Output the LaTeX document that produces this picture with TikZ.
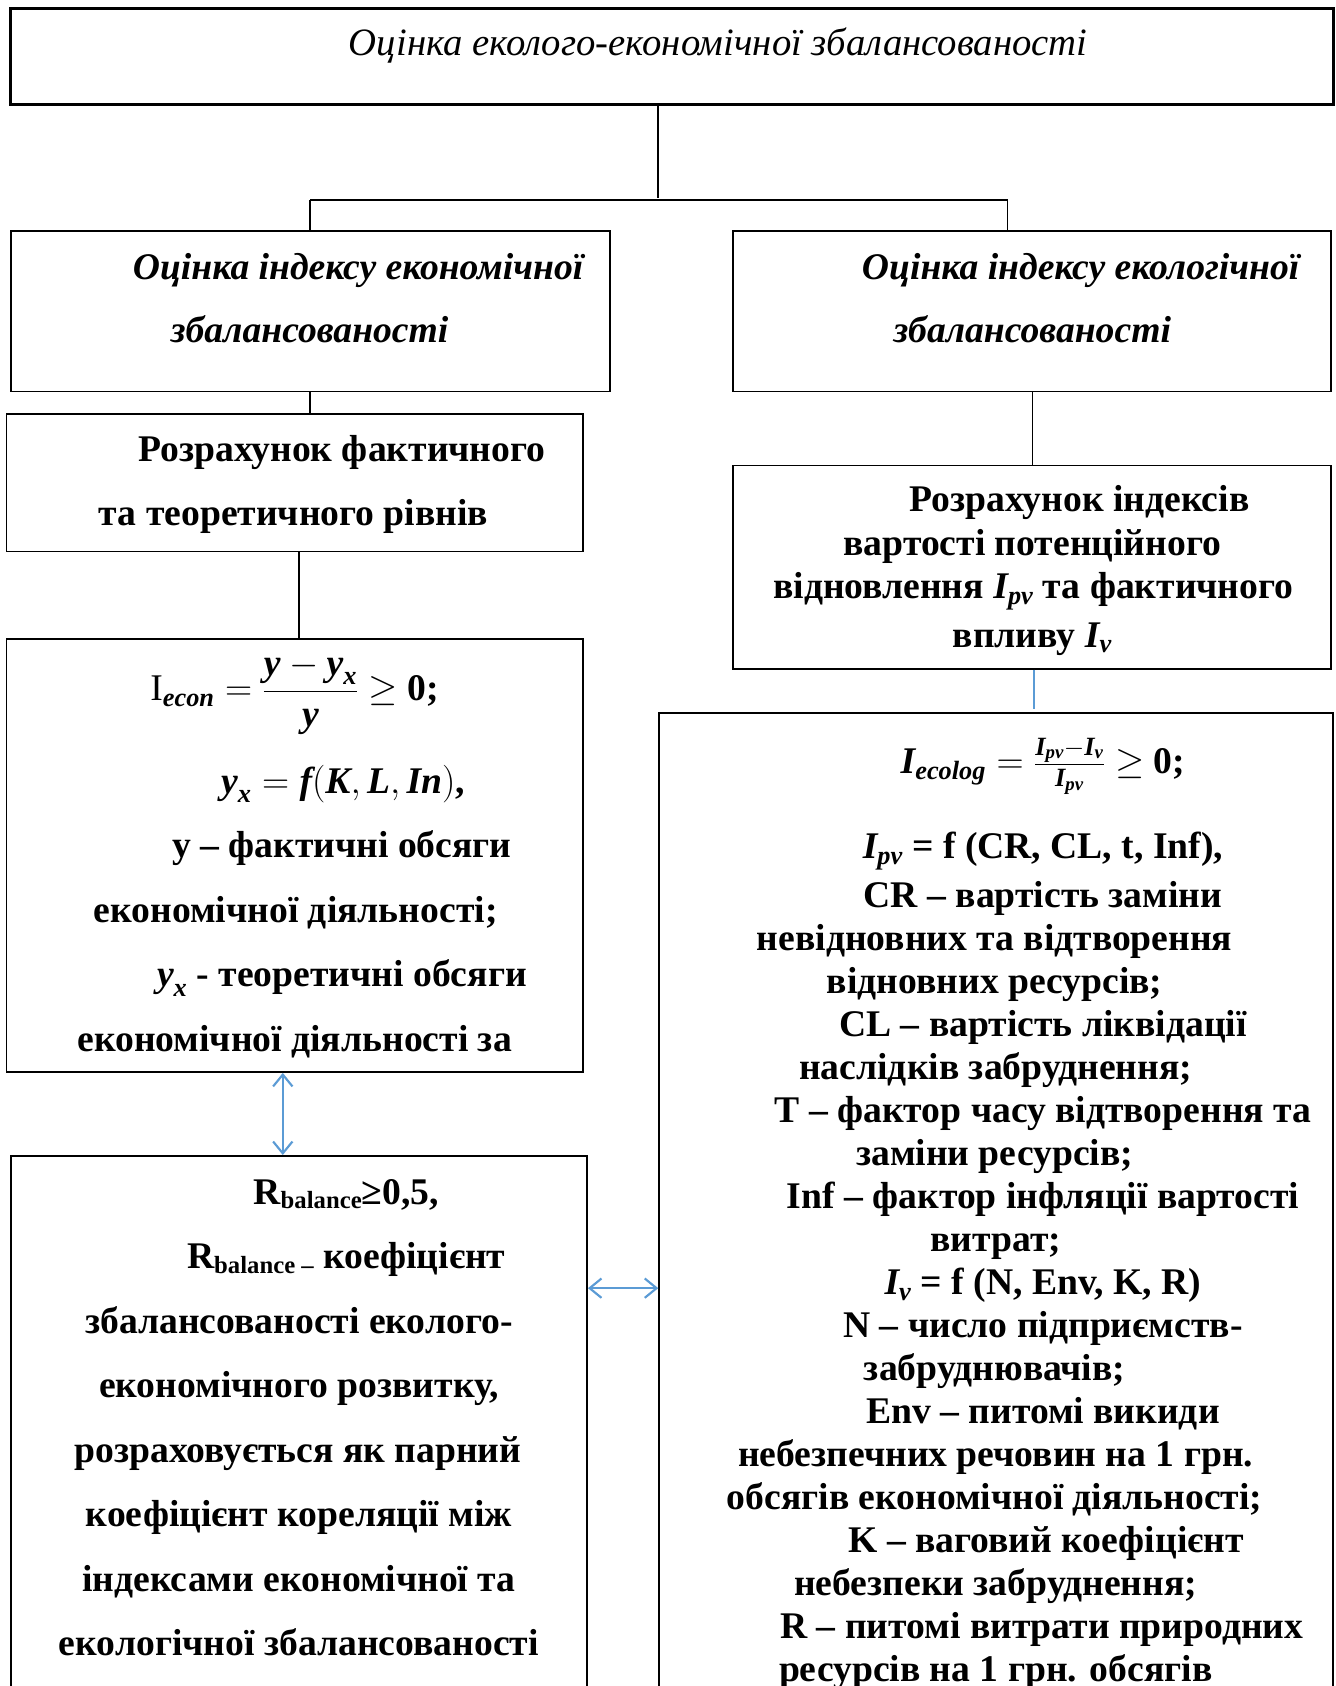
\RequirePackage{fix-cm}
\documentclass[tikz,border=0pt]{standalone}
\usepackage{amsmath}
\usepackage{fontspec}
\setmainfont{Liberation Serif}
\usetikzlibrary{arrows.meta}
\definecolor{lblue}{HTML}{5B9BD5}
\newcommand\bi[1]{\text{\bfseries\itshape #1}}
\newcommand\bodyfont{\fontsize{35}{40}\selectfont\bfseries}
\newcommand\headfont{\fontsize{35}{40}\selectfont\bfseries\itshape}
\newcommand\titlefont{\fontsize{36}{40}\selectfont\itshape}
\newcommand\subfont{\fontsize{23}{24}\selectfont}
\begin{document}
\begin{tikzpicture}[x=1pt,y=-1pt,
  box/.style={draw,line width=1.6pt,inner sep=0pt},
  ln/.style={anchor=mid,inner sep=0pt,font=\bodyfont,yshift=-9.5pt},
  hd/.style={anchor=mid,inner sep=0pt,font=\headfont,yshift=-9.5pt},
  conn/.style={line width=1.4pt},
  bar/.style={line width=2.2pt},
  bconn/.style={line width=2pt,draw=lblue},
  barrow/.style={bconn,{Straight Barb[length=11pt,width=18pt]}-{Straight Barb[length=11pt,width=18pt]}}]
\clip (0,0) rectangle (1242,1568);
% boxes
\node[box,line width=3pt,minimum width=1230pt,minimum height=89pt] (top) at (625,52.5) {};
\node[box,minimum width=557pt,minimum height=149pt] (econ) at (288.5,289.5) {};
\node[box,minimum width=556pt,minimum height=149pt] (ecol) at (960,289.5) {};
\node[box,minimum width=536pt,minimum height=128pt] (calcL) at (274,449) {};
\node[box,minimum width=556pt,minimum height=189pt] (calcR) at (960,527.5) {};
\node[box,minimum width=536pt,minimum height=403pt] (formL) at (274,795.5) {};
\node[box,minimum width=627pt,minimum height=977pt] (formR) at (926.5,1151.5) {};
\node[box,minimum width=536pt,minimum height=565pt] (balL) at (278,1357.5) {};
% connectors
\coordinate (j) at (612,184);
\coordinate (hr) at (937,186);
\draw[conn] (j |- top.south) -- (j);
\draw[bar] (econ.north |- hr) -- (hr);
\draw[conn] (econ.north |- hr) -- (econ.north);
\draw[conn] (hr) -- (hr |- ecol.north);
\draw[conn] (econ.south) -- (econ.south |- calcL.north);
\draw[conn] ([xshift=4pt]calcL.south) -- ([xshift=4pt]calcL.south |- formL.north);
\draw[conn] (ecol.south) -- (calcR.north);
\draw[bconn] ([xshift=2pt]calcR.south) -- ([xshift=2pt,yshift=3pt]calcR.south |- formR.north);
\draw[barrow] ([xshift=-11pt]formL.south) -- ([xshift=-11pt]formL.south |- balL.north);
\coordinate (h) at (0,1198);
\draw[barrow] (balL.east |- h) -- (formR.west |- h);
% texts
\node[anchor=mid,inner sep=0pt,font=\titlefont,yshift=-9.5pt] (title) at (668,40) {Оцінка еколого-економічної збалансованості};
\node[hd] (econ1) at (333,248) {Оцінка індексу економічної};
\node[hd] (econ2) at (288,307) {збалансованості};
\node[hd] (ecol1) at (1005,248) {Оцінка індексу екологічної};
\node[hd] (ecol2) at (960,307) {збалансованості};
\node[ln] (cl1) at (318,417) {Розрахунок фактичного};
\node[ln] (cl2) at (273,477) {та теоретичного рівнів};
\node[ln] (cr1) at (1004,464) {Розрахунок індексів};
\node[ln] (cr2) at (960,505) {вартості потенційного};
\node[ln] (cr3) at (961,545) {відновлення $\bi{I}_{\bi{pv}}$ та фактичного};
\node[ln] (cr4) at (960,590) {впливу $\bi{I}_{\bi{v}}$};
\node[ln] (fl0) at (274,640) {$\text{\mdseries I}_{\bi{econ}}=\dfrac{\bi{y}-\bi{y}_{\bi{x}}}{\bi{y}}\geq$ 0;};
\foreach \x/\y/\t [count=\i] in {
  319/726/{$\bi{y}_{\bi{x}}=\bi{f}(\bi{K},\bi{L},\bi{In})$,},
  318/786/{y – фактичні обсяги},
  275/846/{економічної діяльності;},
  318/906/{$\bi{y}_{\bi{x}}$ - теоретичні обсяги},
  274/966/{економічної діяльності за}}
  \node[ln] (fl\i) at (\x,\y) {\t};
\foreach \x/\y/\t [count=\i] in {
  322/1108/{R\raisebox{-0.12em}{\subfont balance}≥0,5,},
  322/1168/{R\raisebox{-0.12em}{\subfont balance –} коефіцієнт},
  278/1228/{збалансованості еколого-},
  278/1288/{економічного розвитку,},
  277/1348/{розраховується як парний},
  278/1408/{коефіцієнт кореляції між},
  278/1468/{індексами економічної та},
  278/1528/{екологічної збалансованості}}
  \node[ln] (bl\i) at (\x,\y) {\t};
\node[ln] (fr0) at (970,708) {$\bi{I}_{\bi{ecolog}}=\tfrac{\bi{I}_{\bi{pv}}-\bi{I}_{\bi{v}}}{\bi{I}_{\bi{pv}}}\geq$ 0;};
\foreach \x/\y/\t [count=\i] in {
  970/787/{$\bi{I}_{\bi{pv}}$ = f (CR, CL, t, Inf),},
  970/832/{CR – вартість заміни},
  925/872/{невідновних та відтворення},
  925/912/{відновних ресурсів;},
  970/952/{CL – вартість ліквідації},
  926/992/{наслідків забруднення;},
  970/1032/{T – фактор часу відтворення та},
  925/1072/{заміни ресурсів;},
  970/1112/{Inf – фактор інфляції вартості},
  926/1152/{витрат;},
  970/1192/{$\bi{I}_{\bi{v}}$ = f (N, Env, K, R)},
  970/1232/{N – число підприємств-},
  925/1272/{забруднювачів;},
  970/1312/{Env – питомі викиди},
  926/1352/{небезпечних речовин на 1 грн.},
  925/1392/{обсягів економічної діяльності;},
  973/1432/{K – ваговий коефіцієнт},
  926/1472/{небезпеки забруднення;},
  969/1512/{R – питомі витрати природних},
  926/1552/{ресурсів на 1 грн. обсягів}}
  \node[ln] (fr\i) at (\x,\y) {\t};
\end{tikzpicture}
\end{document}
